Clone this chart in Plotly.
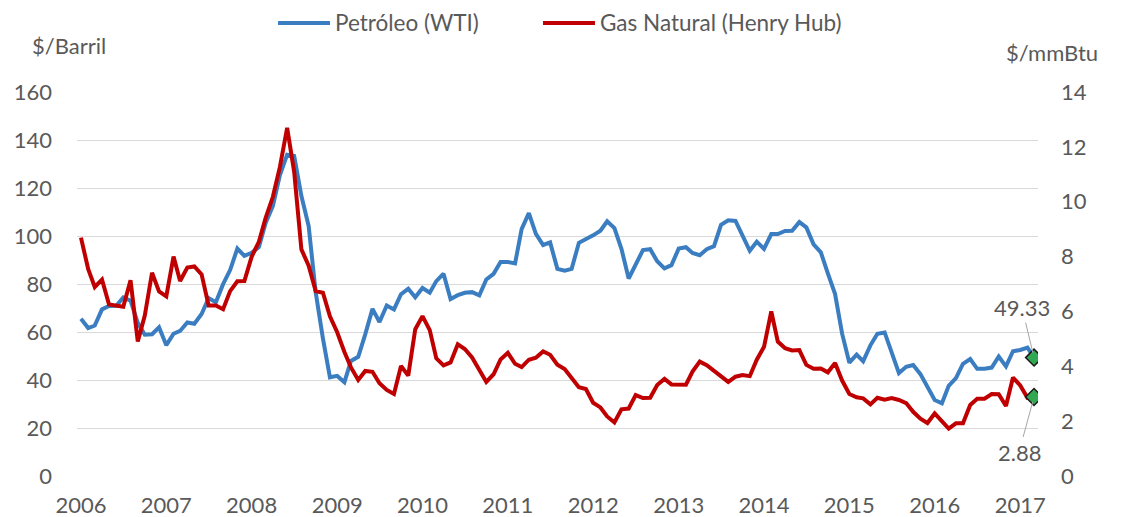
import plotly.graph_objects as go
import pandas as pd

# Monthly dates Jan 2006 - Mar 2017
months = pd.date_range("2006-01-01", "2017-03-01", freq="MS").strftime("%Y-%m-%d").tolist()

wti = [
    65.49, 61.63, 62.69, 69.44, 70.84, 70.95, 74.41, 73.04, 63.80, 58.89, 59.08, 61.96,   # 2006
    54.51, 59.28, 60.44, 63.98, 63.46, 67.49, 74.12, 72.36, 79.92, 85.80, 94.77, 91.69,   # 2007
    92.97, 95.39, 105.45, 112.58, 125.40, 133.88, 133.37, 116.67, 104.11, 76.61, 57.31, 41.12,  # 2008
    41.71, 39.09, 47.94, 49.65, 59.03, 69.64, 64.15, 71.05, 69.41, 75.72, 77.99, 74.47,   # 2009
    78.33, 76.39, 81.20, 84.29, 73.74, 75.34, 76.32, 76.60, 75.24, 81.89, 84.25, 89.15,   # 2010
    89.17, 88.58, 102.86, 109.53, 100.90, 96.26, 97.30, 86.33, 85.52, 86.32, 97.16, 98.56,  # 2011
    100.27, 102.20, 106.16, 103.32, 94.66, 82.30, 87.90, 94.13, 94.51, 89.49, 86.53, 87.86,  # 2012
    94.76, 95.31, 92.94, 92.02, 94.51, 95.77, 104.67, 106.57, 106.29, 100.54, 93.86, 97.63,  # 2013
    94.62, 100.82, 100.80, 102.07, 102.18, 105.79, 103.59, 96.54, 93.21, 84.40, 75.79, 59.29,  # 2014
    47.22, 50.58, 47.82, 54.45, 59.27, 59.82, 50.90, 42.87, 45.48, 46.22, 42.44, 37.19,   # 2015
    31.68, 30.32, 37.55, 40.75, 46.71, 48.76, 44.65, 44.72, 45.18, 49.78, 45.66, 51.97,   # 2016
    52.50, 53.47, 49.33,                                                                  # 2017
]

henry_hub = [
    8.69, 7.54, 6.89, 7.16, 6.25, 6.21, 6.17, 7.14, 4.90, 5.85, 7.41, 6.73,   # 2006
    6.55, 8.00, 7.11, 7.60, 7.64, 7.35, 6.22, 6.22, 6.08, 6.74, 7.10, 7.11,   # 2007
    7.99, 8.54, 9.41, 10.18, 11.27, 12.69, 11.09, 8.26, 7.67, 6.74, 6.68, 5.82,  # 2008
    5.24, 4.52, 3.96, 3.50, 3.83, 3.80, 3.38, 3.14, 2.99, 4.01, 3.66, 5.35,   # 2009
    5.83, 5.32, 4.29, 4.03, 4.14, 4.80, 4.63, 4.32, 3.89, 3.43, 3.71, 4.25,   # 2010
    4.49, 4.09, 3.97, 4.24, 4.31, 4.54, 4.42, 4.06, 3.90, 3.57, 3.24, 3.17,   # 2011
    2.67, 2.50, 2.17, 1.95, 2.43, 2.46, 2.95, 2.84, 2.85, 3.32, 3.54, 3.34,   # 2012
    3.33, 3.33, 3.81, 4.17, 4.04, 3.83, 3.62, 3.43, 3.62, 3.68, 3.64, 4.24,   # 2013
    4.71, 6.00, 4.90, 4.66, 4.58, 4.59, 4.05, 3.91, 3.92, 3.78, 4.12, 3.48,   # 2014
    2.99, 2.87, 2.83, 2.61, 2.85, 2.78, 2.84, 2.77, 2.66, 2.34, 2.09, 1.93,   # 2015
    2.28, 1.99, 1.73, 1.92, 1.92, 2.59, 2.82, 2.82, 2.99, 2.98, 2.55, 3.59,   # 2016
    3.30, 2.85, 2.88,                                                         # 2017
]

year_ticks = [f"{y}-01-01" for y in range(2006, 2018)]
year_labels = [str(y) for y in range(2006, 2018)]

left_ticks = [0, 20, 40, 60, 80, 100, 120, 140, 160]
right_ticks = [0, 2, 4, 6, 8, 10, 12, 14]

series_names = ["Petróleo (WTI)", "Gas Natural (Henry Hub)"]
left_title = "$/Barril"
right_title = "$/mmBtu"

BLUE = "#3A7DC1"
RED = "#C00000"
GRAY = "#595959"
FONT = "Lato"
FS = 22

fig = go.Figure()
fig.add_trace(go.Scatter(x=months, y=wti, mode="lines", name=series_names[0],
                         line=dict(color=BLUE, width=4), yaxis="y", showlegend=False))
fig.add_trace(go.Scatter(x=months, y=henry_hub, mode="lines", name=series_names[1],
                         line=dict(color=RED, width=4), yaxis="y2", showlegend=False))

# end-point markers
fig.add_trace(go.Scatter(x=[months[-1]], y=[wti[-1]], mode="markers", yaxis="y", showlegend=False,
                         marker=dict(symbol="diamond", size=13, color="#33A852",
                                     line=dict(color="#1A1A1A", width=1.5))))
fig.add_trace(go.Scatter(x=[months[-1]], y=[henry_hub[-1]], mode="markers", yaxis="y2", showlegend=False,
                         marker=dict(symbol="diamond", size=13, color="#33A852",
                                     line=dict(color="#1A1A1A", width=1.5))))

annotations = [
    dict(x=months[-1], y=wti[-1], xref="x", yref="y", text=f"{wti[-1]:.2f}",
         showarrow=True, arrowhead=0, arrowwidth=1, arrowcolor="#A6A6A6",
         ax=-12, ay=-50, standoff=5, font=dict(family=FONT, size=FS, color=GRAY)),
    dict(x=months[-1], y=henry_hub[-1], xref="x", yref="y2", text=f"{henry_hub[-1]:.2f}",
         showarrow=True, arrowhead=0, arrowwidth=1, arrowcolor="#A6A6A6",
         ax=-15, ay=55, standoff=5, font=dict(family=FONT, size=FS, color=GRAY)),
    dict(x=-0.0083, y=1.122, xref="paper", yref="paper", text=left_title, showarrow=False,
         xanchor="center", yanchor="middle", font=dict(family=FONT, size=FS, color=GRAY)),
    dict(x=1.0145, y=1.104, xref="paper", yref="paper", text=right_title, showarrow=False,
         xanchor="center", yanchor="middle", font=dict(family=FONT, size=FS, color=GRAY)),
    # custom legend texts
    dict(x=0.2664, y=1.1797, xref="paper", yref="paper", text=series_names[0], showarrow=False,
         xanchor="left", yanchor="middle", font=dict(family=FONT, size=FS + 0.5, color=GRAY)),
    dict(x=0.5422, y=1.1797, xref="paper", yref="paper", text=series_names[1], showarrow=False,
         xanchor="left", yanchor="middle", font=dict(family=FONT, size=FS + 0.5, color=GRAY)),
]

shapes = [
    dict(type="line", xref="paper", yref="paper", x0=0.2092, x1=0.2633, y0=1.1797, y1=1.1797,
         line=dict(color=BLUE, width=4)),
    dict(type="line", xref="paper", yref="paper", x0=0.4849, x1=0.5390, y0=1.1797, y1=1.1797,
         line=dict(color=RED, width=4)),
]

# page body has an 8px default margin, so the figure is sized to fit the window
fig.update_layout(
    template="none",
    width=1114, height=509,
    margin=dict(l=69, r=84, t=84, b=41, autoexpand=False),
    paper_bgcolor="white", plot_bgcolor="white",
    font=dict(family=FONT, size=FS, color=GRAY),
    xaxis=dict(type="date", range=["2005-12-15", "2017-03-18"], automargin=False,
               tickmode="array", tickvals=year_ticks, ticktext=year_labels,
               showgrid=False, zeroline=False, showline=False, ticks="",
               ticklabelstandoff=14, tickfont=dict(family=FONT, size=FS, color=GRAY)),
    yaxis=dict(range=[0, 160], tickmode="array", tickvals=left_ticks, automargin=False,
               showgrid=True, gridcolor="#D9D9D9", gridwidth=1, zeroline=False,
               showline=False, ticks="", ticklabelstandoff=24,
               tickfont=dict(family=FONT, size=FS, color=GRAY)),
    yaxis2=dict(range=[0, 14], tickmode="array", tickvals=right_ticks, overlaying="y", side="right",
                automargin=False, showgrid=False, zeroline=False, showline=False, ticks="",
                ticklabelstandoff=22, tickfont=dict(family=FONT, size=FS, color=GRAY)),
    annotations=annotations,
    shapes=shapes,
    showlegend=False,
)

fig.write_html("out.html")
